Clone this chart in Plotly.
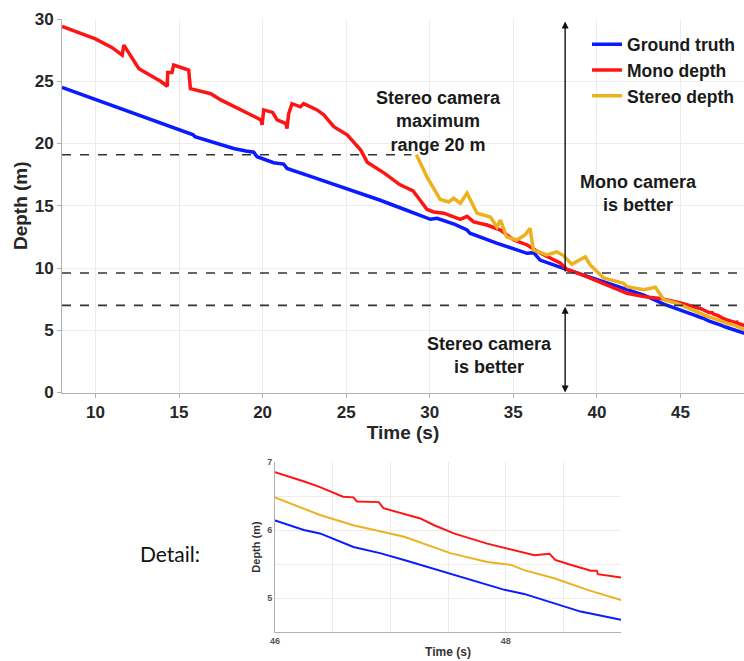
import plotly.graph_objects as go

# ---------------- data ----------------
gt_time = [8.0, 10.0, 12.0, 14.0, 15.85, 15.95, 17.0, 18.27, 19.0, 19.47, 19.67, 20.2, 20.66,
           21.26, 21.46, 23.0, 25.0, 27.0, 28.5, 30.04, 30.44, 31.5, 32.23, 32.4, 34.0, 35.82,
           36.22, 36.6, 38.0, 39.8, 41.5, 42.8, 44.0, 45.0,
           46.0, 46.25, 46.39, 46.68, 46.91, 47.12, 47.41, 47.7, 47.99, 48.16, 48.42, 48.65, 49.0]
gt_depth = [24.5, 23.53, 22.56, 21.6, 20.7, 20.55, 20.1, 19.6, 19.4, 19.3, 18.94, 18.7, 18.46,
            18.35, 18.0, 17.3, 16.4, 15.46, 14.7, 13.91, 13.99, 13.5, 13.05, 12.8, 12.0, 11.18,
            11.23, 10.64, 9.97, 9.17, 8.4, 7.83, 7.1, 6.65,
            6.14, 6.0, 5.95, 5.75, 5.66, 5.56, 5.41, 5.26, 5.12, 5.06, 4.92, 4.8, 4.68]

mono_time = [8.0, 9.0, 10.0, 11.0, 11.6, 11.7, 11.9, 12.1, 12.6, 13.9, 14.3, 14.32, 14.58, 14.68,
             15.58, 15.68, 16.9, 17.5, 19.0, 19.9, 19.97, 20.07, 20.6, 20.87, 21.4, 21.46, 21.56,
             21.76, 22.26, 22.46, 23.26, 23.66, 24.26, 25.06, 25.86, 26.26, 27.3, 28.2, 29.0,
             29.44, 29.84, 30.24, 30.84, 31.83, 32.23, 32.63, 33.43, 34.23, 35.03, 35.83, 36.6,
             37.8, 38.2, 39.2, 40.2, 41.0, 41.8, 42.8, 43.8, 45.0,
             46.0, 46.26, 46.39, 46.59, 46.68, 46.71, 46.9, 46.94, 47.26, 47.38, 47.55, 47.84,
             48.13, 48.25, 48.38, 48.43, 48.54, 48.58, 48.74, 48.79, 48.8, 49.0]
mono_depth = [29.4, 28.9, 28.4, 27.7, 27.1, 27.9, 27.5, 27.1, 26.0, 25.0, 24.6, 25.7, 25.7, 26.3,
              25.9, 24.4, 24.0, 23.5, 22.5, 21.9, 21.5, 22.7, 22.5, 21.9, 21.6, 21.2, 22.4,
              23.2, 22.95, 23.2, 22.7, 22.3, 21.35, 20.7, 19.5, 18.5, 17.6, 16.7, 16.2,
              15.4, 14.7, 14.5, 14.4, 13.9, 14.15, 13.7, 13.45, 13.05, 12.25, 11.85, 11.2,
              10.4, 9.9, 9.4, 8.85, 8.4, 7.97, 7.7, 7.55, 7.2,
              6.85, 6.71, 6.63, 6.49, 6.48, 6.42, 6.41, 6.32, 6.17, 6.07, 5.95, 5.8,
              5.68, 5.63, 5.65, 5.56, 5.5, 5.48, 5.4, 5.4, 5.35, 5.3]

stereo_time = [29.2, 29.84, 30.63, 31.13, 31.43, 31.83, 32.23, 32.83, 33.63, 34.02, 34.23, 34.6,
               35.2, 35.7, 36.0, 36.2, 37.0, 37.6, 38.0, 38.5, 39.3, 39.6, 40.4, 41.6, 41.8,
               42.8, 43.5, 44.0, 44.8, 45.5,
               46.0, 46.39, 46.68, 47.12, 47.52, 47.84, 48.04, 48.16, 48.42, 48.71, 49.0]
stereo_depth = [19.1, 17.3, 15.5, 15.3, 15.6, 15.2, 16.0, 14.4, 14.1, 13.3, 13.85, 12.5,
                12.25, 12.65, 13.2, 11.45, 11.05, 11.3, 11.0, 10.3, 10.9, 10.25, 9.2, 8.77, 8.5,
                8.25, 8.45, 7.45, 7.15, 6.75,
                6.48, 6.22, 6.07, 5.9, 5.66, 5.53, 5.49, 5.41, 5.29, 5.12, 4.97]

series_names = ["Ground truth", "Mono depth", "Stereo depth"]
series_colors = ["#0b1bff", "#ff1414", "#edb120"]

stereo_max_range = 19.1      # dashed line (stereo camera max range)
stereo_start_time = 28.9
mono_better_level = 9.6
stereo_better_level = 7.0
crossover_time = 38.1
arrow_top = 29.8

# ---------------- figure ----------------
W, H = 744, 661
fig = go.Figure()

series = [(gt_time, gt_depth), (mono_time, mono_depth), (stereo_time, stereo_depth)]
for (t, d), name, col in zip(series, series_names, series_colors):
    fig.add_trace(go.Scatter(x=t, y=d, mode="lines", name=name,
                             line=dict(color=col, width=3.5), xaxis="x", yaxis="y"))
for (t, d), name, col in zip(series, series_names, series_colors):
    fig.add_trace(go.Scatter(x=t, y=d, mode="lines", name=name, showlegend=False,
                             line=dict(color=col, width=2), xaxis="x2", yaxis="y2"))

FAM = "Liberation Sans, Arial, sans-serif"
tickfont = dict(family=FAM, size=17, color="#262626", weight="bold")
titlefont = dict(family=FAM, size=19, color="#262626", weight="bold")
grid = "#ececec"
axline = "#b0b0b0"

fig.update_layout(
    width=W, height=H,
    margin=dict(l=0, r=0, t=0, b=0, autoexpand=False),
    paper_bgcolor="white", plot_bgcolor="white",
    showlegend=True,
    legend=dict(x=0.789, y=0.96, xanchor="left", yanchor="top",
                bgcolor="rgba(0,0,0,0)", borderwidth=0,
                font=dict(family=FAM, size=17.5, color="#1a1a1a", weight="bold"),
                tracegroupgap=0, itemwidth=30),
    xaxis=dict(domain=[62 / W, 1.0], range=[8, 48.8], tickvals=[10, 15, 20, 25, 30, 35, 40, 45],
               automargin=False,
               showgrid=True, gridcolor=grid, zeroline=False, showline=True, linecolor=axline,
               ticks="outside", ticklen=4, tickcolor=axline, tickfont=tickfont,
               title=dict(text="Time (s)", font=titlefont, standoff=4), anchor="y"),
    yaxis=dict(domain=[1 - 392.5 / H, 1 - 19 / H], range=[0, 30], tickvals=[0, 5, 10, 15, 20, 25, 30],
               automargin=False,
               showgrid=True, gridcolor=grid, zeroline=False, showline=True, linecolor=axline,
               ticks="outside", ticklen=4, tickcolor=axline, tickfont=tickfont,
               title=dict(text="Depth (m)", font=titlefont, standoff=2), anchor="x"),
    xaxis2=dict(domain=[275 / W, 621 / W], range=[46, 49], automargin=False,
                tickvals=[46, 46.5, 47, 47.5, 48, 48.5, 49],
                ticktext=["46", "", "", "", "48", "", ""],
                showgrid=True, gridcolor=grid, zeroline=False, showline=True, linecolor=axline,
                ticks="", tickfont=dict(family=FAM, size=9, color="#555555", weight="bold"),
                title=dict(text="Time (s)", font=dict(family=FAM, size=12, color="#333333",
                                                     weight="bold"), standoff=2), anchor="y2"),
    yaxis2=dict(domain=[1 - 632 / H, 1 - 462 / H], range=[4.5, 7], automargin=False,
                tickvals=[5, 5.5, 6, 6.5, 7], ticktext=["5", "", "6", "", "7"],
                showgrid=True, gridcolor=grid, zeroline=False, showline=True, linecolor=axline,
                ticks="", tickfont=dict(family=FAM, size=9, color="#555555", weight="bold"),
                title=dict(text="Depth (m)", font=dict(family=FAM, size=11, color="#333333",
                                                      weight="bold"), standoff=4), anchor="x2"),
)

# dashed reference lines
dash = dict(color="#333333", width=1.6, dash="dash")
fig.add_shape(type="line", xref="x", yref="y", x0=8, x1=stereo_start_time,
              y0=stereo_max_range, y1=stereo_max_range, line=dash)
fig.add_shape(type="line", xref="x", yref="y", x0=8, x1=48.8,
              y0=mono_better_level, y1=mono_better_level, line=dash)
fig.add_shape(type="line", xref="x", yref="y", x0=8, x1=48.8,
              y0=stereo_better_level, y1=stereo_better_level, line=dash)

# arrows
fig.add_annotation(x=crossover_time, y=arrow_top, ax=crossover_time, ay=mono_better_level,
                   xref="x", yref="y", axref="x", ayref="y", showarrow=True, text="",
                   arrowhead=2, arrowsize=1, arrowwidth=1.4, arrowcolor="#111111")
fig.add_annotation(x=crossover_time, y=0, ax=crossover_time, ay=stereo_better_level,
                   xref="x", yref="y", axref="x", ayref="y", showarrow=True, text="",
                   arrowhead=2, startarrowhead=2, arrowside="end+start", arrowsize=1,
                   arrowwidth=1.4, arrowcolor="#111111")

anfont = dict(family=FAM, size=18, color="#1a1a1a", weight="bold")
fig.add_annotation(x=30.5, y=21.8, xref="x", yref="y", showarrow=False,
                   text="Stereo camera<br>maximum<br>range 20 m", font=anfont, align="center")
fig.add_annotation(x=42.5, y=16.0, xref="x", yref="y", showarrow=False,
                   text="Mono camera<br>is better", font=anfont, align="center")
fig.add_annotation(x=33.56, y=3.0, xref="x", yref="y", showarrow=False,
                   text="Stereo camera<br>is better", font=anfont, align="center")

fig.add_annotation(x=170 / W, y=1 - 553 / H, xref="paper", yref="paper", showarrow=False,
                   xanchor="center", yanchor="middle",
                   text="Detail:", font=dict(family="Lato, Noto Sans, sans-serif", size=21,
                                             color="#111111"))

fig.write_html("out.html")
